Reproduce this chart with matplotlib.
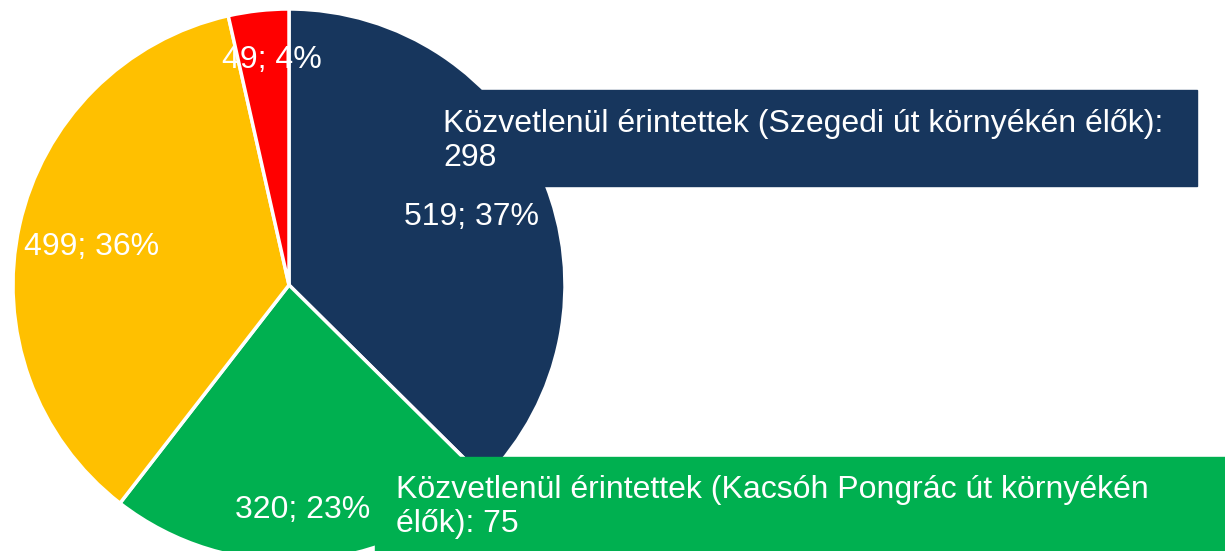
import matplotlib.pyplot as plt
from matplotlib.patches import Rectangle

plt.rcParams['font.family'] = ['Liberation Sans', 'DejaVu Sans']

# slice data (clockwise from 12 o'clock)
values = [519, 320, 499, 49]
colors = ['#17365D', '#00B050', '#FFC000', '#FF0000']
callouts = ['Közvetlenül érintettek (Szegedi út környékén élők):\n298',
            'Közvetlenül érintettek (Kacsóh Pongrác út környékén\nélők): 75']

W, H = 1225, 551
fig = plt.figure(figsize=(W / 100, H / 100), dpi=100)
ax = fig.add_axes([0, 0, 1, 1])

cx, cy, r = 289, H - 285, 276
ax.pie(values, colors=colors, startangle=90, counterclock=False,
       center=(cx, cy), radius=r, frame=True,
       wedgeprops=dict(edgecolor='white', linewidth=2.5))
ax.set_xlim(0, W)
ax.set_ylim(0, H)
ax.set_aspect('equal')
ax.axis('off')

fs = 23
total = sum(values)
label_pos = [(472, 217), (303, 510), (92, 247), (272, 60)]
for v, (x, y) in zip(values, label_pos):
    ax.text(x, H - y, f"{v}; {round(v / total * 100)}%", color='white',
            fontsize=fs, ha='center', va='center')

# callout boxes
ax.add_patch(Rectangle((420, H - 186), 1197 - 420, 96, color=colors[0], zorder=3))
ax.text(443, H - 141, callouts[0], color='white', fontsize=fs,
        ha='left', va='center', linespacing=1.17, zorder=4)
ax.add_patch(Rectangle((375, 0), W - 375, H - 457, color=colors[1], zorder=3))
ax.text(396, H - 507, callouts[1], color='white', fontsize=fs,
        ha='left', va='center', linespacing=1.17, zorder=4)

fig.savefig('out.png', dpi=100)
